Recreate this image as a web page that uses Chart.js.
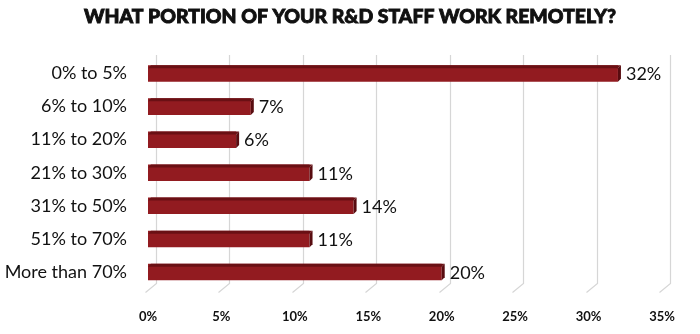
<!DOCTYPE html>
<html>
<head>
<meta charset="utf-8">
<script src="https://cdn.jsdelivr.net/npm/chart.js@4"></script>
<style>
  html, body { margin: 0; padding: 0; background: #fff; }
  #wrap { width: 700px; height: 334px; }
</style>
</head>
<body>
<div id="wrap"><canvas id="chart" width="700" height="334"></canvas></div>
<script>
const titleText = 'WHAT PORTION OF YOUR R&D STAFF WORK REMOTELY?';
const categories = ['0% to 5%', '6% to 10%', '11% to 20%', '21% to 30%', '31% to 50%', '51% to 70%', 'More than 70%'];
const shares = [32, 7, 6, 11, 14, 11, 20];
const tickValues = [0, 5, 10, 15, 20, 25, 30, 35];

const BAR = '#921b20';
const BAR_TOP = '#6a1014';
const BAR_SIDE = '#580c10';
const GRID = '#d6d6d6';
const DEPTH = 8;
const FONT = 'Lato, "Open Sans", sans-serif';

// heading centred on the whole canvas (the built-in title would centre on the padded box)
const heading = {
    id: 'heading',
    afterDraw(chart) {
        const { ctx } = chart;
        ctx.save();
        ctx.font = '900 19.4px ' + FONT;
        ctx.fillStyle = '#111';
        ctx.strokeStyle = '#111';
        ctx.lineWidth = 0.9;
        ctx.textAlign = 'center';
        ctx.textBaseline = 'middle';
        ctx.fillText(titleText, chart.width / 2, 17);
        ctx.strokeText(titleText, chart.width / 2, 17);
        ctx.restore();
    }
};

// back-wall gridlines with the little floor diagonals
const wallGrid = {
    id: 'wallGrid',
    beforeDatasetsDraw(chart) {
        const { ctx, chartArea, scales } = chart;
        ctx.save();
        ctx.strokeStyle = GRID;
        ctx.lineWidth = 1.2;
        tickValues.forEach(v => {
            const x = Math.round(scales.x.getPixelForValue(v)) + 0.5;
            ctx.beginPath();
            ctx.moveTo(x + DEPTH, chartArea.top - 2);
            ctx.lineTo(x + DEPTH, chartArea.bottom - 5);
            ctx.lineTo(x - 3, chartArea.bottom + 4);
            ctx.stroke();
        });
        ctx.restore();
    }
};

// darker top bevel and end face, then value labels
const barDepth = {
    id: 'barDepth',
    afterDatasetsDraw(chart) {
        const { ctx } = chart;
        const meta = chart.getDatasetMeta(0);
        ctx.save();
        meta.data.forEach((bar, i) => {
            const top = bar.y - bar.height / 2;
            const bottom = bar.y + bar.height / 2;
            const left = bar.base;
            const right = bar.x;

            ctx.fillStyle = BAR_TOP;
            ctx.beginPath();
            ctx.moveTo(left, top + 3);
            ctx.lineTo(left + 3, top);
            ctx.lineTo(right + 3, top);
            ctx.lineTo(right, top + 3);
            ctx.closePath();
            ctx.fill();

            ctx.fillStyle = BAR_SIDE;
            ctx.beginPath();
            ctx.moveTo(right, top + 3);
            ctx.lineTo(right + 3, top);
            ctx.lineTo(right + 3, bottom - 3);
            ctx.lineTo(right, bottom);
            ctx.closePath();
            ctx.fill();

            ctx.fillStyle = '#111';
            ctx.font = '18px ' + FONT;
            ctx.textAlign = 'left';
            ctx.textBaseline = 'middle';
            ctx.fillText(shares[i] + '%', right + 8, bar.y + 1);
        });
        ctx.restore();
    }
};

new Chart(document.getElementById('chart'), {
    type: 'bar',
    data: {
        labels: categories,
        datasets: [{
            data: shares,
            backgroundColor: BAR,
            borderWidth: 0,
            barPercentage: 0.5,
            categoryPercentage: 1
        }]
    },
    options: {
        indexAxis: 'y',
        responsive: false,
        animation: false,
        layout: { padding: { left: 0, right: 38, top: 57, bottom: 0 } },
        plugins: {
            legend: { display: false },
            tooltip: { enabled: false },
            title: { display: false }
        },
        scales: {
            x: {
                min: 0,
                max: 35,
                afterBuildTicks: axis => { axis.ticks = tickValues.map(v => ({ value: v })); },
                afterFit: axis => { axis.height = 45.5; },
                grid: { display: false, drawTicks: false, tickLength: 0 },
                border: { display: false },
                ticks: {
                    padding: 21,
                    maxRotation: 0,
                    color: '#111',
                    font: { family: FONT, size: 13, weight: 'bold' },
                    callback: v => v + '%'
                }
            },
            y: {
                grid: { display: false, drawTicks: false, tickLength: 0 },
                border: { display: false },
                afterFit: axis => { axis.width = 148; },
                ticks: {
                    padding: 21,
                    color: '#111',
                    font: { family: FONT, size: 18 }
                }
            }
        }
    },
    plugins: [wallGrid, barDepth, heading]
});
</script>
</body>
</html>
